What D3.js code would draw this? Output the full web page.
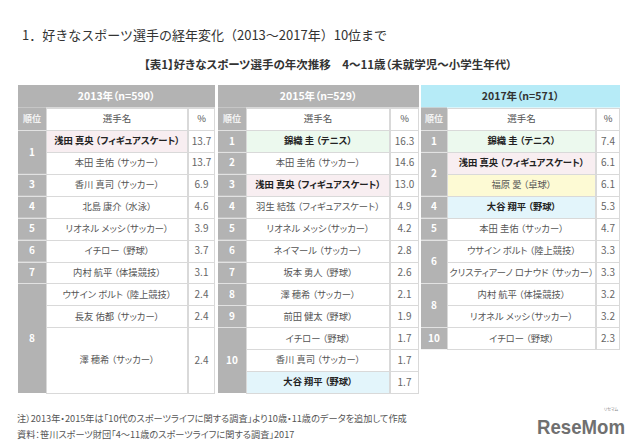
<!DOCTYPE html>
<html><head><meta charset="utf-8">
<script src="https://cdn.jsdelivr.net/npm/d3@7"></script>
<style>
body{margin:0;background:#fff;}
svg text{font-family:"Noto Sans CJK JP","Noto Sans",sans-serif;font-feature-settings:"palt";}
svg text.nopalt{font-feature-settings:normal;}
</style></head><body>
<svg id="c" width="640" height="442"></svg>
<script>
const title = "1．好きなスポーツ選手の経年変化（2013～2017年）10位まで";
const subtitle = "【表1】好きなスポーツ選手の年次推移　4～11歳（未就学児～小学生年代）";
const years = ["2013年（n=590）", "2015年（n=529）", "2017年（n=571）"];
const colHeaders = ["順位", "選手名", "%"];

const ranks2013 = ["1","1","3","4","5","6","7","8","8","8"];
const names2013 = ["浅田 真央 （フィギュアスケート）","本田 圭佑 （サッカー）","香川 真司 （サッカー）","北島 康介 （水泳）","リオネル メッシ（サッカー）","イチロー （野球）","内村 航平 （体操競技）","ウサイン ボルト （陸上競技）","長友 佑都 （サッカー）","澤 穂希 （サッカー）"];
const pct2013 = [13.7,13.7,6.9,4.6,3.9,3.7,3.1,2.4,2.4,2.4];
const units2013 = [1,1,1,1,1,1,1,1,1,3];

const ranks2015 = ["1","2","3","4","5","6","7","8","9","10","10","10"];
const names2015 = ["錦織 圭 （テニス）","本田 圭佑 （サッカー）","浅田 真央 （フィギュアスケート）","羽生 結弦 （フィギュアスケート）","リオネル メッシ（サッカー）","ネイマール （サッカー）","坂本 勇人 （野球）","澤 穂希 （サッカー）","前田 健太 （野球）","イチロー （野球）","香川 真司 （サッカー）","大谷 翔平 （野球）"];
const pct2015 = [16.3,14.6,13.0,4.9,4.2,2.8,2.6,2.1,1.9,1.7,1.7,1.7];
const units2015 = [1,1,1,1,1,1,1,1,1,1,1,1];

const ranks2017 = ["1","2","2","4","5","6","6","8","8","10"];
const names2017 = ["錦織 圭 （テニス）","浅田 真央 （フィギュアスケート）","福原 愛 （卓球）","大谷 翔平 （野球）","本田 圭佑 （サッカー）","ウサイン ボルト （陸上競技）","クリスティアーノ ロナウド （サッカー）","内村 航平 （体操競技）","リオネル メッシ（サッカー）","イチロー （野球）"];
const pct2017 = [7.4,6.1,6.1,5.3,4.7,3.3,3.3,3.2,3.2,2.3];
const units2017 = [1,1,1,1,1,1,1,1,1,1];

const note1 = "注）2013年・2015年は「10代のスポーツライフに関する調査」より10歳・11歳のデータを追加して作成";
const note2 = "資料：笹川スポーツ財団「4～11歳のスポーツライフに関する調査」2017";

// ---- styling / layout ----
const highlight = {
  "浅田": {fill:"#f8eef1", bold:true},
  "錦織": {fill:"#ecf9ee", bold:true},
  "大谷": {fill:"#e3f5fb", bold:true},
  "福原": {fill:"#fdfad4", bold:false}
};
const blocks = [
  {year: years[0], ranks: ranks2013, names: names2013, pct: pct2013, units: units2013, cols:[18,46,188,215], head:"#b3b3b3", headText:"#fff"},
  {year: years[1], ranks: ranks2015, names: names2015, pct: pct2015, units: units2015, cols:[218,246,390,419], head:"#b3b3b3", headText:"#fff"},
  {year: years[2], ranks: ranks2017, names: names2017, pct: pct2017, units: units2017, cols:[421,447,596,620], head:"#b6ebf7", headText:"#333"}
];
const GRID = "#d9d9d9";
const RANKFILL = "#b3b3b3";

const svg = d3.select("#c");
const y = d3.scaleLinear().domain([0, 12]).range([130, 393]);
const hy = d3.scaleLinear().domain([0, 2]).range([85, 130]);

svg.append("text").attr("class", "nopalt").attr("x", 22).attr("y", 39.5).attr("font-size", 13).attr("fill", "#333")
  .text(title);
svg.append("text").attr("x", 328).attr("y", 69).attr("font-size", 11.5).attr("font-weight", "bold")
  .attr("text-anchor", "middle").attr("fill", "#333").text(subtitle);

blocks.forEach(b => {
  const [x0, x1, x2, x3] = b.cols;
  const g = svg.append("g");
  // year header
  g.append("rect").attr("x", x0).attr("y", hy(0)).attr("width", x3 - x0).attr("height", hy(1) - hy(0))
    .attr("fill", b.head);
  g.append("text").attr("x", (x0 + x3) / 2).attr("y", (hy(0) + hy(1)) / 2).attr("dy", "0.36em")
    .attr("text-anchor", "middle").attr("font-size", 10.5).attr("font-weight", "bold")
    .attr("fill", b.headText).text(b.year);
  // column header row
  g.append("rect").attr("x", x0).attr("y", hy(1)).attr("width", x1 - x0).attr("height", hy(2) - hy(1))
    .attr("fill", RANKFILL);
  [[x1, x2], [x2, x3]].forEach(([a, c]) => {
    g.append("rect").attr("x", a + 0.5).attr("y", hy(1) + 0.5).attr("width", c - a - 1).attr("height", hy(2) - hy(1))
      .attr("fill", "#fff").attr("stroke", GRID).attr("shape-rendering", "crispEdges");
  });
  const colX = [(x0 + x1) / 2, (x1 + x2) / 2, (x2 + x3) / 2];
  colHeaders.forEach((t, i) => {
    g.append("text").attr("x", colX[i]).attr("y", (hy(1) + hy(2)) / 2).attr("dy", "0.36em")
      .attr("text-anchor", "middle").attr("font-size", i === 0 ? 9 : 9.5)
      .attr("font-weight", i === 0 ? "bold" : "normal")
      .attr("fill", i === 0 ? "#f4f4f4" : "#555").text(t);
  });

  // rows
  let acc = 0;
  const rows = b.names.map((n, i) => {
    const r = {name: n, pct: b.pct[i], rank: b.ranks[i], start: acc, end: acc + b.units[i]};
    acc += b.units[i];
    return r;
  });
  rows.forEach(r => {
    const key = Object.keys(highlight).find(k => r.name.startsWith(k));
    const st = key ? highlight[key] : null;
    const top = y(r.start), bot = y(r.end);
    g.append("rect").attr("x", x1 + 0.5).attr("y", top + 0.5).attr("width", x2 - x1 - 1).attr("height", bot - top)
      .attr("fill", st ? st.fill : "#fff").attr("stroke", GRID).attr("shape-rendering", "crispEdges");
    g.append("rect").attr("x", x2 + 0.5).attr("y", top + 0.5).attr("width", x3 - x2 - 1).attr("height", bot - top)
      .attr("fill", "#fff").attr("stroke", GRID).attr("shape-rendering", "crispEdges");
    g.append("text").attr("x", (x1 + x2) / 2).attr("y", (top + bot) / 2).attr("dy", "0.36em")
      .attr("text-anchor", "middle").attr("font-size", 9.3)
      .attr("font-weight", st && st.bold ? "bold" : "normal")
      .attr("fill", st && st.bold ? "#222" : "#555").text(r.name);
    g.append("text").attr("x", (x2 + x3) / 2).attr("y", (top + bot) / 2).attr("dy", "0.36em")
      .attr("text-anchor", "middle").attr("font-size", 10).attr("fill", "#666")
      .text(d3.format(".1f")(r.pct));
  });
  // rank groups (merge consecutive equal ranks)
  const groups = [];
  rows.forEach(r => {
    const last = groups[groups.length - 1];
    if (last && last.rank === r.rank) last.end = r.end;
    else groups.push({rank: r.rank, start: r.start, end: r.end});
  });
  groups.forEach(gr => {
    const top = y(gr.start), bot = y(gr.end);
    g.append("rect").attr("x", x0).attr("y", top).attr("width", x1 - x0).attr("height", bot - top)
      .attr("fill", RANKFILL);
    g.append("line").attr("x1", x0).attr("x2", x1).attr("y1", Math.round(top) + 0.5).attr("y2", Math.round(top) + 0.5)
      .attr("stroke", "#e2e2e2").attr("shape-rendering", "crispEdges");
    g.append("text").attr("x", (x0 + x1) / 2).attr("y", (top + bot) / 2).attr("dy", "0.36em")
      .attr("text-anchor", "middle").attr("font-size", 10).attr("font-weight", "bold")
      .attr("fill", "#fff").text(gr.rank);
  });
});

svg.append("text").attr("x", 17).attr("y", 422).attr("font-size", 9.2).attr("fill", "#555").text(note1);
svg.append("text").attr("x", 17).attr("y", 438).attr("font-size", 9.2).attr("fill", "#555").text(note2);

// logo
svg.append("text").attr("x", 537).attr("y", 434).attr("font-size", 21).attr("font-weight", "bold")
  .attr("fill", "#707070").style("font-family", "'Liberation Sans', Arial, sans-serif")
  .attr("textLength", 88).attr("lengthAdjust", "spacingAndGlyphs").text("ReseMom");
svg.append("text").attr("x", 611).attr("y", 410.5).attr("font-size", 4).attr("text-anchor", "middle")
  .attr("fill", "#888").text("リセマム");
</script>
</body></html>
